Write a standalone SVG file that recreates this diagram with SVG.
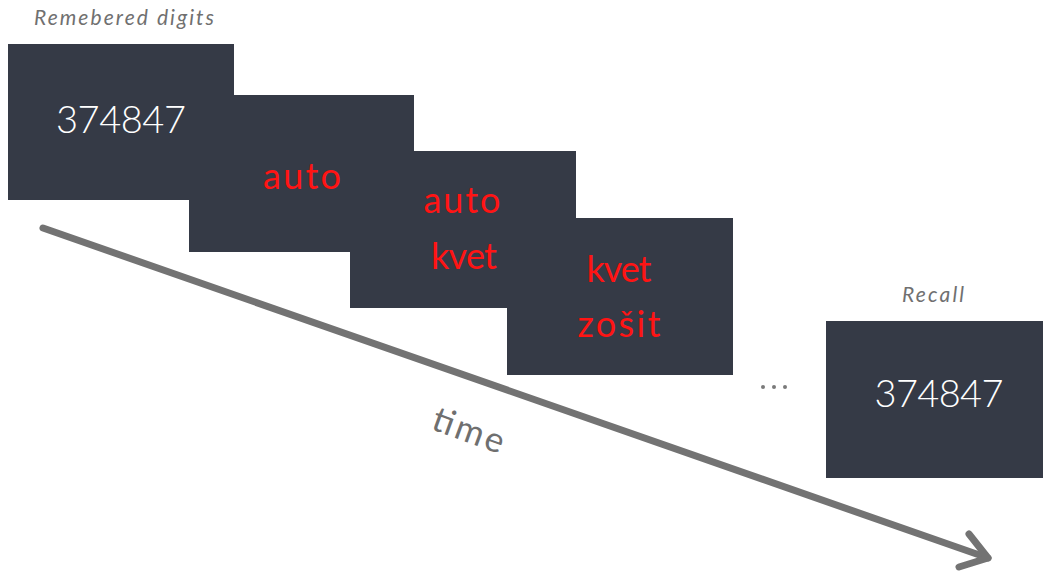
<svg xmlns="http://www.w3.org/2000/svg" width="1043" height="571" viewBox="0 0 1043 571">
  <style>
    .card { fill: #353a46; }
    .num { font-family: Lato, "Open Sans", "Liberation Sans", sans-serif; font-weight: 300; font-size: 38px; fill: #ffffff; text-anchor: middle; }
    .word { font-family: Lato, "Open Sans", "Liberation Sans", sans-serif; font-weight: 400; font-size: 36px; fill: #ff1414; text-anchor: middle; }
    .cap { font-family: Lato, "Open Sans", "Liberation Sans", sans-serif; font-weight: 400; font-size: 21px; font-style: italic; fill: #707070; text-anchor: middle; }
    .axis { stroke: #737373; stroke-width: 7; fill: none; stroke-linecap: round; stroke-linejoin: round; }
  </style>
  <rect width="1043" height="571" fill="#ffffff"/>

  <text class="cap" x="124" y="25" textLength="180">Remebered digits</text>

  <g id="connectors">
    <path class="axis" d="M43,228 L988,558"/>
    <path class="axis" d="M969,534 L988,558 L959,567"/>
  </g>

  <g id="step1">
    <rect class="card" x="8" y="44" width="226" height="156"/>
    <text class="num" x="121" y="133" textLength="130">374847</text>
  </g>
  <g id="step2">
    <rect class="card" x="189" y="95" width="225" height="157"/>
    <text class="word" x="302" y="189" textLength="78">auto</text>
  </g>
  <g id="step3">
    <rect class="card" x="350" y="151" width="226" height="157"/>
    <text class="word" x="462" y="213" textLength="77">auto</text>
    <text class="word" x="464" y="269" textLength="66">kvet</text>
  </g>
  <g id="step4">
    <rect class="card" x="507" y="218" width="226" height="157"/>
    <text class="word" x="619" y="282" textLength="65">kvet</text>
    <text class="word" x="619" y="337" textLength="83">zošit</text>
  </g>

  <g id="ellipsis">
    <circle cx="763" cy="387" r="2" fill="#7a7a7a"/>
    <circle cx="774" cy="387" r="2" fill="#7a7a7a"/>
    <circle cx="785" cy="387" r="2" fill="#7a7a7a"/>
  </g>

  <text class="cap" x="933" y="302" textLength="62">Recall</text>
  <g id="recall">
    <rect class="card" x="826" y="321" width="217" height="157"/>
    <text class="num" x="939" y="407" textLength="129">374847</text>
  </g>

  <text x="468" y="442" transform="rotate(20 468 432)" font-family="Lato, 'Open Sans', 'Liberation Sans', sans-serif" font-weight="400" font-size="35" fill="#6f6f6f" text-anchor="middle" textLength="74">time</text>
</svg>
